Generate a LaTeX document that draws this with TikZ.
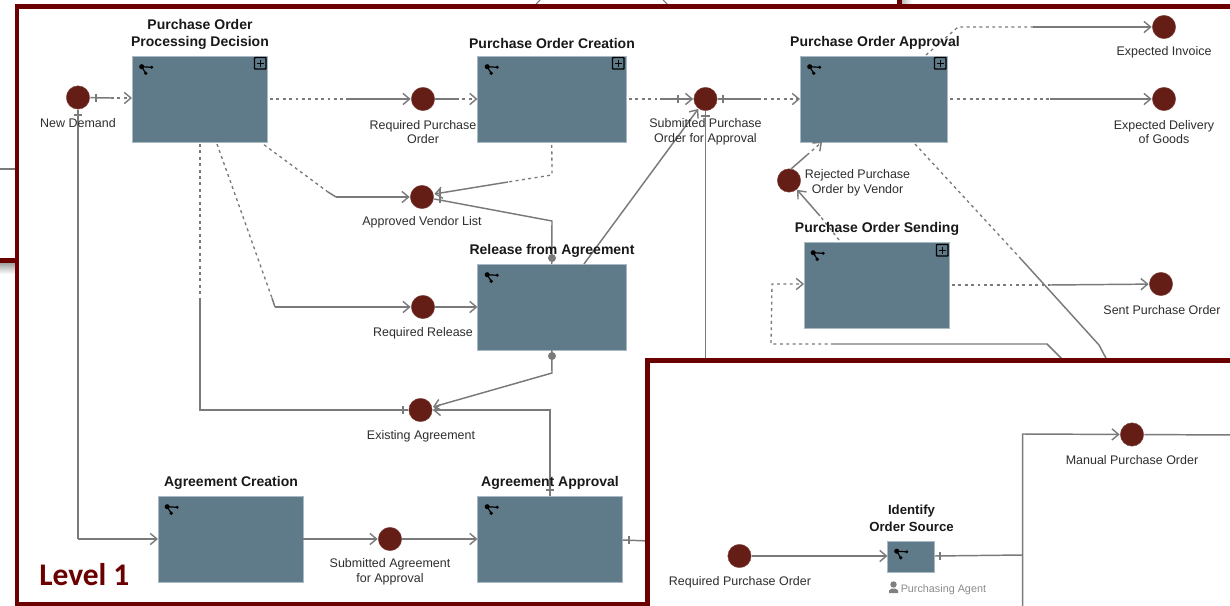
\documentclass[tikz,border=0pt]{standalone}
\usepackage{fontspec}
\setmainfont{Liberation Sans}
\newfontfamily\levelfont{Carlito}
\usetikzlibrary{arrows.meta,calc}
\definecolor{boxfill}{HTML}{5F7A89}
\definecolor{boxedge}{HTML}{A9BAC4}
\definecolor{evfill}{HTML}{641E16}
\definecolor{framered}{HTML}{6B0000}
\definecolor{linegrey}{HTML}{7A7A7A}
\definecolor{txtgrey}{HTML}{2E2E2E}
\tikzset{
  x=0.75pt,y=-0.75pt,
  taskbox/.style={draw=boxedge,line width=0.5pt,fill=boxfill,inner sep=0pt,outer sep=0pt},
  evt/.style={circle,fill=evfill,draw=evfill!80!white,line width=0.3pt,inner sep=0pt,minimum size=17.5pt,outer sep=0.5pt},
  lbl/.style={font=\fontsize{9.35}{11}\selectfont,text=txtgrey,align=center,inner sep=0pt,yshift=-0.75pt},
  ttl/.style={font=\fontsize{10.5}{12.8}\selectfont\bfseries,text=black!90,align=center,inner sep=0pt,yshift=-0.75pt},
  solidl/.style={draw=linegrey,line width=1.1pt},
  dashl/.style={draw=linegrey,line width=1pt,dash pattern=on 2.2pt off 2.6pt},
  arr/.style={-{Straight Barb[length=5pt,width=8.4pt,line width=1.05pt]}},
  ticks/.style={draw=linegrey,line width=0.9pt},
  frameline/.style={draw=framered,line width=3.6pt},
  branch/.pic={
    \draw[black,line width=0.9pt] (9.7,10.7)--(19.7,11.3) (9.7,10.7)--(13.7,17.3);
    \fill[black] (9.7,10.7) circle (1.9pt) (19.7,11.3) circle (1.2pt) (13.7,17.3) circle (1.4pt);
  },
  plusicon/.pic={
    \draw[black,line width=1pt,rounded corners=0.5pt] (0,0) rectangle (11.5,11.5);
    \draw[black,line width=1pt] (5.75,2.2)--(5.75,9.3) (2.2,5.75)--(9.3,5.75);
  }
}
\newcommand{\taskat}[5]{\node[taskbox,minimum width={(#4-#2)*0.75pt},minimum height={(#5-#3)*0.75pt}] (#1) at ({(#2+#4)/2},{(#3+#5)/2}) {};}
\begin{document}
\begin{tikzpicture}
\useasboundingbox (0,0) rectangle (1230,606);
\clip (0,0) rectangle (1230,606);
\fill[white] (0,0) rectangle (1230,606);

% pieces of slides behind
\draw[solidl,line width=0.8pt] (0,169)--(16,169);
\shade[top color=black!40,bottom color=white] (0,262) rectangle (16,274);
\fill[framered] (0,258) rectangle (16,263);
\shade[left color=black!25,right color=white] (902,0) rectangle (912,4);
\fill[framered] (897,0) rectangle (902,5);
\draw[solidl,line width=0.8pt] (536,4)--(540,0) (663,0)--(667,4);

% coordinates
\coordinate (c1) at (111,98);
\coordinate (c2) at (346,99);
\coordinate (c3) at (456,99);
\coordinate (c4a) at (328,192);
\coordinate (c4b) at (336,197);
\coordinate (c5a) at (552,175);
\coordinate (c5b) at (508,182);
\coordinate (c6) at (552,221);
\coordinate (c7) at (660,99);
\coordinate (c8) at (758,99);
\coordinate (c11a) at (958,27);
\coordinate (c11b) at (1033,27);
\coordinate (c12) at (1050,99);
\coordinate (c13a) at (1021,259);
\coordinate (c13b) at (1099,345);
\coordinate (c13c) at (1108,362);
\coordinate (c14a) at (791,169);
\coordinate (c14) at (807,155);
\coordinate (c14b) at (822,142);
\coordinate (c15) at (820,216);
\coordinate (c16a) at (772,284);
\coordinate (c16b) at (771,344);
\coordinate (c16c) at (834,344);
\coordinate (c16d) at (1047,344);
\coordinate (c16e) at (1065,362);
\coordinate (c17) at (1050,285);
\coordinate (c18a) at (200,298);
\coordinate (c18b) at (200,410);
\coordinate (c19a) at (272,298);
\coordinate (c19b) at (275,307);
\coordinate (c21) at (552,373);
\coordinate (c22) at (550,410);
\coordinate (c23) at (78,539);
\coordinate (c29a) at (1022.5,555);
\coordinate (c29b) at (1022.5,434);
\coordinate (c29c) at (1022.5,610);
\coordinate (c30) at (1235,435);
\coordinate (c26) at (650,541);
\coordinate (c10) at (705.5,365);

% events
\node[evt] (nd) at (78,97.5) {};
\node[evt] (rpo) at (423,99) {};
\node[evt] (avl) at (422,197) {};
\node[evt] (rrel) at (423,307) {};
\node[evt] (exa) at (420.5,410) {};
\node[evt] (spo) at (705.5,99) {};
\node[evt] (einv) at (1164,27) {};
\node[evt] (edel) at (1164,99) {};
\node[evt] (rej) at (789,180.5) {};
\node[evt] (sent) at (1161,284) {};
\node[evt] (sag) at (390,539) {};

% tasks
\taskat{pod}{132}{56}{267}{142}
\taskat{poc}{477.5}{56}{626}{142}
\taskat{poa}{800}{56}{947.5}{142}
\taskat{pos}{804}{242}{949}{328}
\taskat{rel}{477.5}{264}{626}{350}
\taskat{agc}{158}{496}{303}{582}
\taskat{aga}{477.5}{496}{622.5}{582}

% connectors
\draw[solidl] (nd) -- (c1);
\draw[dashl,arr] (c1) -- (pod.west |- c1);
\draw[ticks] (96,94)--(96,102);

\draw[dashl,shorten <=2.2pt] (pod.east |- c2) -- (c2);
\draw[solidl,arr] (c2) -- (rpo);
\draw[solidl] (rpo) -- (c3);
\draw[dashl,arr] (c3) -- (poc.west |- c3);

\draw[dashl,shorten <=1pt] (263,144) -- (c4a);
\draw[solidl] (c4a) -- (c4b);
\draw[solidl,arr] (c4b) -- (avl);

\draw[dashl,shorten <=2.2pt] (poc.south) -- (c5a) -- (c5b);
\draw[solidl,arr] (c5b) -- (avl.east |- 0,194);
\draw[solidl] (rel.north) -- (c6) -- (avl.east |- 0,199);
\draw[ticks] (440,189)--(440,203);
\fill[linegrey] (552,258) circle (3pt);

\draw[dashl,shorten <=2.2pt] (poc.east) -- (c7);
\draw[solidl,arr] (c7) -- (spo);
\draw[ticks] (678,95)--(678,103);
\draw[solidl] (spo) -- (c8);
\draw[dashl,arr] (c8) -- (poa.west |- c8);
\draw[ticks] (723,95)--(723,103);

\draw[solidl,arr] (584,264) -- (spo);
\draw[solidl] (spo) -- (c10);
\draw[ticks] (701,116)--(710,116);

\draw[dashl] (926,55) -- (c11a) -- (c11b);
\draw[solidl,arr] (c11b) -- (einv);
\draw[dashl,shorten <=2.2pt] (poa.east) -- (c12);
\draw[solidl,arr] (c12) -- (edel);
\draw[dashl] (915,144) -- (c13a);
\draw[solidl] (c13a) -- (c13b) -- (c13c);

\draw[solidl] (c14a) -- (c14);
\draw[dashl,arr] (c14) -- (c14b);
\draw[dashl] (839,240) -- (c15);
\draw[solidl,arr] (c15) -- (rej);

\draw[dashl,arr] (c16c) -- (c16b) -- (c16a) -- (pos.west |- c16a);
\draw[solidl] (c16c) -- (c16d) -- (c16e);
\draw[dashl,shorten <=2.2pt] (pos.east |- c17) -- (c17);
\draw[solidl,arr] (c17) -- (sent);

\draw[dashl] (200,144) -- (c18a);
\draw[solidl] (c18a) -- (c18b) -- (exa);
\draw[ticks] (403,406)--(403,414);
\draw[dashl] (217,144) -- (c19a);
\draw[solidl] (c19a) -- (c19b);
\draw[solidl,arr] (c19b) -- (rrel);
\draw[solidl,arr] (rrel) -- (rel.west |- rrel);

\draw[solidl,arr] (rel.south) -- (c21) -- (exa.east |- 0,407);
\fill[linegrey] (552,356) circle (3pt);
\draw[solidl,arr] (aga.north -| c22) -- (c22) -- (exa);
\draw[ticks] (546,490)--(554,490);

\draw[solidl] (nd) -- (c23);
\draw[ticks] (74,115)--(82,115);
\draw[solidl,arr] (c23) -- (agc.west |- c23);
\draw[solidl,arr] (agc.east |- sag) -- (sag);
\draw[solidl,arr] (sag) -- (aga.west |- sag);
\draw[solidl] (aga.east |- 0,540) -- (c26);
\draw[ticks] (629,536)--(629,544);

% task icons
\foreach \x/\y in {132/56,477.5/56,800/56,803.5/242,477.5/264,157.5/496,477.5/496}{
  \pic at (\x,\y) {branch};
}
\foreach \x/\y in {254.5/57.5,612.5/57.5,934.5/57.5,936.5/244.5}{
  \pic at (\x,\y) {plusicon};
}

% frame one
\draw[frameline,line cap=square] (1240,6.7) -- (17,6.7) -- (17,604.3) -- (650,604.3);

% labels
\node[lbl] (t1) at (78,122) {New Demand};
\node[lbl] (t2) at (423,131) {Required Purchase\\Order};
\node[lbl] (t3) at (422,221) {Approved Vendor List};
\node[lbl] (t4) at (423,332) {Required Release};
\node[lbl] (t5) at (421,435) {Existing Agreement};
\node[lbl] (t6) at (705.5,131) {Submitted Purchase\\Order for Approval};
\node[lbl] (t7) at (1164,51) {Expected Invoice};
\node[lbl] (t8) at (1164,131) {Expected Delivery\\of Goods};
\node[lbl] (t9) at (857.5,181.5) {Rejected Purchase\\Order by Vendor};
\node[lbl] (t10) at (1162,309) {Sent Purchase Order};
\node[lbl] (t11) at (390,571) {Submitted Agreement\\for Approval};

\node[ttl] (h1) at (200,33.5) {Purchase Order\\Processing Decision};
\node[ttl] (h2) at (552,42) {Purchase Order Creation};
\node[ttl] (h3) at (875,42) {Purchase Order Approval};
\node[ttl] (h4) at (877,228) {Purchase Order Sending};
\node[ttl] (h5) at (552,250) {Release from Agreement};
\node[ttl] (h6) at (231,482) {Agreement Creation};
\node[ttl] (h7) at (550,482) {Agreement Approval};

\node[font=\levelfont\bfseries\fontsize{23.6}{25}\selectfont,text=framered,inner sep=0pt,anchor=west] (lvl) at (39,575) {Level 1};

% second slide on top
\fill[white] (648,361) rectangle (1240,620);
\node[evt] (man) at (1132,434.5) {};
\node[evt] (rpo2) at (739.5,556) {};
\taskat{ido}{887.5}{541}{934.5}{572}
\draw[solidl,arr] (rpo2) -- (ido.west |- rpo2);
\draw[solidl] (ido.east |- rpo2) -- (c29a);
\draw[ticks] (940,552)--(940,560);
\draw[solidl,arr] (c29c) -- (c29b) -- (man);
\draw[solidl] (man) -- (c30);
\pic at (887,540.5) {branch};
\draw[frameline] (1240,360.5) -- (647.8,360.5) -- (647.8,620);

\node[lbl] (t12) at (1132,459) {Manual Purchase Order};
\node[lbl] (t13) at (740,581) {Required Purchase Order};
\node[ttl,font=\fontsize{9.9}{12.8}\selectfont\bfseries] (h8) at (911.5,517.5) {Identify\\Order Source};
\node[lbl,font=\fontsize{8.1}{10}\selectfont,text=black!45,anchor=west] (t14) at (900.5,589) {Purchasing Agent};
\fill[black!50] (893.5,584.5) circle (2.4pt);
\fill[black!50] (889,593) -- (889,590.5) -- (891.5,588.5) -- (895.5,588.5) -- (898,590.5) -- (898,593) -- cycle;
\end{tikzpicture}
\end{document}
